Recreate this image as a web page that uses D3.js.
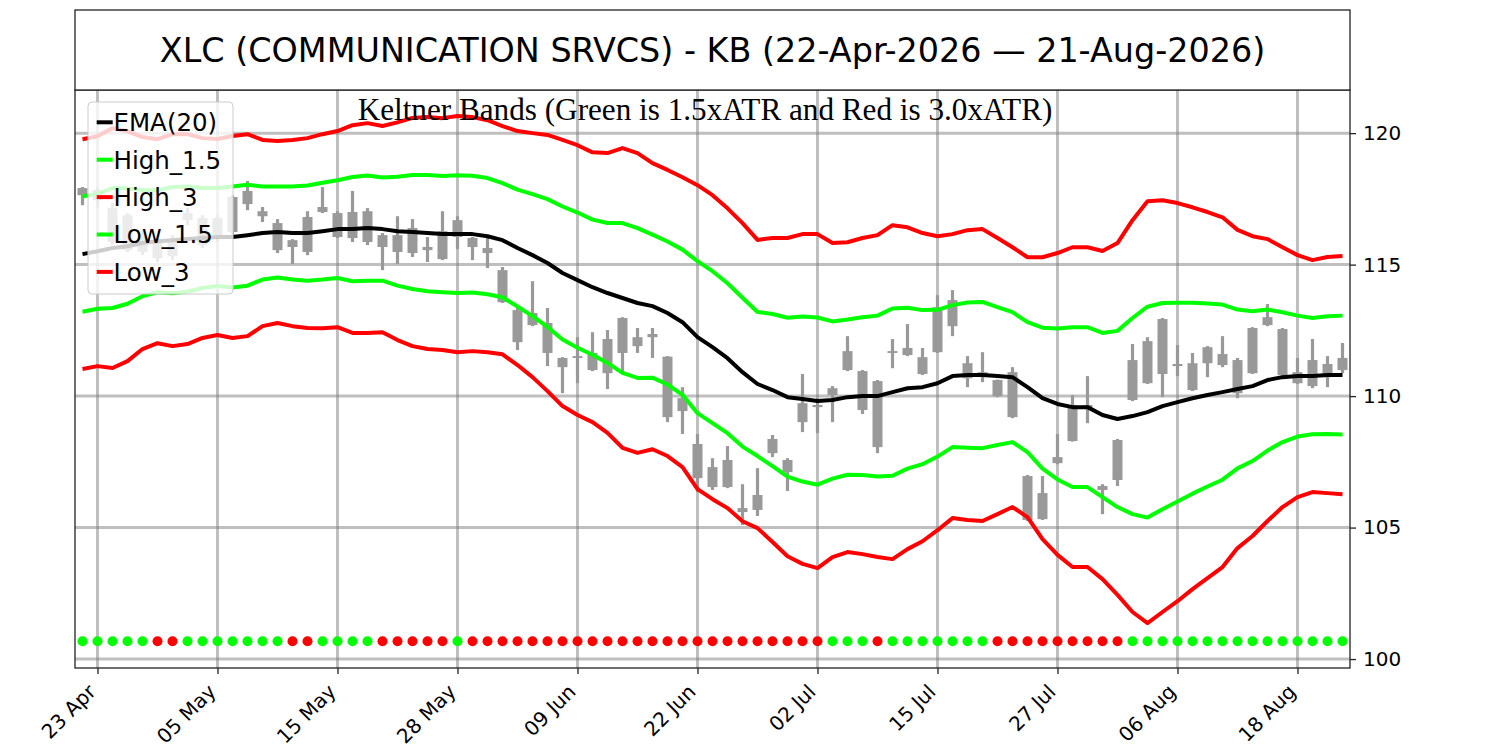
<!DOCTYPE html>
<html>
<head>
<meta charset="utf-8">
<script src="https://cdn.jsdelivr.net/npm/d3@7"></script>
<style>
  body { margin: 0; background: #fff; }
  svg { display: block; }
</style>
</head>
<body>
<div id="chart"></div>
<script>
// trading days shown on the chart
const dates = [
  "2026-04-22","2026-04-23","2026-04-24","2026-04-27","2026-04-28","2026-04-29","2026-04-30",
  "2026-05-01","2026-05-04","2026-05-05","2026-05-06","2026-05-07","2026-05-08","2026-05-11",
  "2026-05-12","2026-05-13","2026-05-14","2026-05-15","2026-05-18","2026-05-19","2026-05-20",
  "2026-05-21","2026-05-22","2026-05-26","2026-05-27","2026-05-28","2026-05-29",
  "2026-06-01","2026-06-02","2026-06-03","2026-06-04","2026-06-05","2026-06-08","2026-06-09",
  "2026-06-10","2026-06-11","2026-06-12","2026-06-15","2026-06-16","2026-06-17","2026-06-18",
  "2026-06-22","2026-06-23","2026-06-24","2026-06-25","2026-06-26","2026-06-29","2026-06-30",
  "2026-07-01","2026-07-02","2026-07-06","2026-07-07","2026-07-08","2026-07-09","2026-07-10",
  "2026-07-13","2026-07-14","2026-07-15","2026-07-16","2026-07-17","2026-07-20","2026-07-21",
  "2026-07-22","2026-07-23","2026-07-24","2026-07-27","2026-07-28","2026-07-29","2026-07-30",
  "2026-07-31","2026-08-03","2026-08-04","2026-08-05","2026-08-06","2026-08-07","2026-08-10",
  "2026-08-11","2026-08-12","2026-08-13","2026-08-14","2026-08-17","2026-08-18","2026-08-19",
  "2026-08-20","2026-08-21"
];

// candles (all drawn grey in the source)
const highs = [
  117.95,117.95,117.34,116.96,116.31,116.01,116.12,117.15,116.88,116.88,
  117.64,118.18,117.19,116.73,115.97,117.03,117.95,117.03,117.80,117.15,
  116.20,116.84,116.73,116.05,117.03,116.84,116.05,116.05,114.91,113.38,
  114.37,113.35,111.48,112.24,112.43,112.51,113.00,112.59,112.59,111.52,
  110.34,108.56,107.64,108.10,106.65,107.26,108.52,107.64,110.84,109.92,
  110.38,112.28,110.99,110.61,112.17,112.74,111.83,113.84,114.03,111.52,
  111.67,110.63,111.10,107.00,106.96,108.56,110.04,110.76,106.65,108.37,
  111.98,112.24,112.97,111.94,111.64,111.90,112.28,111.45,112.62,113.50,
  112.59,111.45,112.17,111.52,112.02
];
const opens = [
  117.91,117.83,117.15,116.88,116.12,115.86,115.93,116.96,116.77,116.77,
  117.57,117.80,117.03,116.58,115.93,116.81,117.19,116.96,117.00,117.03,
  116.12,116.12,116.39,115.67,116.27,116.69,116.01,115.63,114.79,113.27,
  113.16,112.78,111.45,111.52,111.64,112.17,112.97,112.24,112.36,111.50,
  109.92,108.18,107.30,107.57,105.74,106.24,108.37,107.57,109.73,109.66,
  110.30,111.71,110.95,110.57,111.71,111.83,111.48,113.38,113.65,111.25,
  110.91,110.61,110.91,106.96,106.31,107.68,109.66,109.66,106.58,108.33,
  111.37,112.09,112.93,111.22,111.25,111.86,111.60,111.37,112.59,113.00,
  112.55,110.91,111.37,111.22,111.45
];
const closes = [
  117.64,117.45,115.86,115.55,115.48,115.25,115.32,116.69,115.74,116.12,
  116.24,117.30,116.84,115.55,115.67,115.48,117.00,116.05,116.01,115.86,
  115.67,115.48,115.44,115.55,115.21,116.05,115.67,115.44,113.57,112.05,
  112.70,111.64,111.10,111.45,110.99,110.87,111.64,111.90,112.24,109.20,
  109.43,106.88,106.54,106.54,105.59,105.67,107.83,107.11,109.01,109.58,
  110.04,110.99,109.47,108.06,111.64,111.56,110.84,111.67,112.66,110.68,
  110.84,110.00,109.20,105.29,105.32,107.45,108.29,109.58,106.43,106.81,
  109.85,110.49,110.84,111.14,110.23,111.25,111.18,110.11,110.87,112.70,
  110.80,110.49,110.38,110.72,110.99
];
const lows = [
  117.26,117.15,115.74,115.48,115.36,115.10,115.17,116.50,115.63,115.86,
  116.08,117.07,116.62,115.44,115.02,115.36,116.96,116.01,115.86,115.74,
  114.79,115.02,115.29,115.10,115.17,115.59,115.17,114.87,113.54,111.75,
  112.66,111.14,110.11,110.49,110.95,110.27,110.87,111.64,111.45,109.01,
  108.56,106.35,106.43,106.50,105.10,105.44,107.68,106.39,108.63,108.59,
  109.01,110.95,109.32,107.83,111.06,111.52,110.80,111.64,112.28,110.34,
  110.53,109.96,109.16,105.25,105.29,107.41,108.27,108.97,105.51,106.58,
  109.81,110.46,109.96,110.76,110.19,110.72,111.10,109.92,110.84,112.66,
  110.76,110.46,110.30,110.34,110.87
];

// Keltner lines
const ema20 = [
  115.40,115.51,115.63,115.70,115.82,115.89,115.93,115.97,116.01,116.05,
  116.05,116.12,116.20,116.24,116.20,116.20,116.27,116.35,116.35,116.39,
  116.35,116.27,116.24,116.20,116.16,116.16,116.16,116.08,115.93,115.63,
  115.36,115.06,114.68,114.41,114.14,113.92,113.73,113.54,113.42,113.16,
  112.81,112.24,111.86,111.44,110.91,110.46,110.23,109.96,109.89,109.81,
  109.85,109.96,110.00,110.00,110.15,110.30,110.34,110.49,110.76,110.80,
  110.80,110.76,110.72,110.34,109.92,109.70,109.58,109.58,109.28,109.13,
  109.24,109.39,109.62,109.77,109.92,110.04,110.15,110.27,110.38,110.61,
  110.72,110.76,110.76,110.80,110.80
];
const high15 = [
  117.59,117.70,117.91,117.89,117.84,117.83,117.95,117.97,117.91,117.91,
  117.97,118.04,117.97,117.97,117.97,118.01,118.11,118.21,118.33,118.39,
  118.31,118.34,118.41,118.41,118.37,118.40,118.38,118.29,118.10,117.85,
  117.68,117.49,117.21,116.98,116.71,116.58,116.58,116.39,116.14,115.88,
  115.57,115.13,114.75,114.29,113.74,113.20,113.12,112.98,113.03,112.99,
  112.84,112.91,113.00,113.06,113.33,113.36,113.27,113.28,113.46,113.56,
  113.58,113.38,113.19,112.81,112.60,112.57,112.62,112.62,112.40,112.48,
  112.97,113.40,113.54,113.55,113.55,113.52,113.48,113.29,113.23,113.29,
  113.19,113.06,112.97,113.04,113.06
];
const high3 = [
  119.77,119.88,120.19,120.07,119.85,119.77,119.96,119.96,119.81,119.78,
  119.89,119.96,119.74,119.70,119.74,119.81,119.96,120.08,120.30,120.38,
  120.27,120.41,120.58,120.61,120.57,120.65,120.61,120.49,120.27,120.08,
  120.00,119.93,119.74,119.54,119.27,119.24,119.43,119.24,118.86,118.60,
  118.32,118.02,117.64,117.14,116.58,115.94,116.01,116.01,116.16,116.16,
  115.82,115.85,116.01,116.12,116.50,116.42,116.20,116.08,116.16,116.31,
  116.35,116.01,115.66,115.28,115.28,115.44,115.66,115.66,115.52,115.82,
  116.69,117.41,117.45,117.34,117.18,117.00,116.80,116.32,116.08,115.97,
  115.66,115.36,115.17,115.29,115.33
];
const low15 = [
  113.21,113.32,113.35,113.51,113.80,113.95,113.91,113.97,114.11,114.19,
  114.13,114.20,114.43,114.51,114.43,114.39,114.43,114.49,114.37,114.39,
  114.39,114.20,114.07,113.99,113.95,113.92,113.94,113.87,113.76,113.41,
  113.04,112.63,112.15,111.84,111.57,111.26,110.88,110.69,110.70,110.44,
  110.05,109.35,108.97,108.59,108.08,107.72,107.34,106.94,106.75,106.63,
  106.86,107.01,107.00,106.94,106.97,107.24,107.41,107.70,108.06,108.04,
  108.02,108.14,108.25,107.87,107.24,106.83,106.54,106.54,106.16,105.78,
  105.51,105.38,105.70,105.99,106.29,106.56,106.82,107.25,107.53,107.93,
  108.25,108.46,108.55,108.56,108.54
];
const low3 = [
  111.03,111.14,111.07,111.33,111.79,112.01,111.90,111.98,112.21,112.32,
  112.21,112.28,112.66,112.78,112.66,112.59,112.58,112.62,112.40,112.40,
  112.43,112.13,111.90,111.79,111.75,111.67,111.71,111.67,111.59,111.18,
  110.72,110.19,109.62,109.28,109.01,108.60,108.03,107.84,107.98,107.72,
  107.30,106.46,106.08,105.74,105.24,104.98,104.45,103.91,103.62,103.46,
  103.88,104.07,103.99,103.88,103.80,104.18,104.48,104.90,105.36,105.29,
  105.25,105.51,105.78,105.40,104.56,103.96,103.50,103.50,103.04,102.44,
  101.79,101.37,101.79,102.20,102.66,103.08,103.50,104.22,104.68,105.25,
  105.78,106.16,106.35,106.31,106.27
];

// 1 = green dot, 0 = red dot
const signals = [
  1,1,1,1,1,0,0,1,1,1,1,1,1,1,0,0,1,1,1,1,
  0,0,0,0,0,1,0,0,0,0,0,0,0,0,0,0,0,0,0,0,
  0,0,0,0,0,0,0,0,0,0,1,1,1,0,1,1,1,1,1,1,
  1,0,0,0,0,0,0,0,0,0,1,1,1,1,1,1,1,1,1,1,
  1,1,1,1,1
];
const signalLevel = 100.68;

const tickIdx = [1, 9, 17, 25, 33, 41, 49, 57, 65, 73, 81];
const yTicks = [100, 105, 110, 115, 120];

const seriesNames = ["EMA(20)", "High_1.5", "High_3", "Low_1.5", "Low_3"];
const seriesColors = ["#000000", "#00ff00", "#ff0000", "#00ff00", "#ff0000"];
const seriesValues = [ema20, high15, high3, low15, low3];

const titleText = "XLC (COMMUNICATION SRVCS) - KB (22-Apr-2026 \u2014 21-Aug-2026)";
const subTitle = "Keltner Bands (Green is 1.5xATR and Red is 3.0xATR)";

// ---------------------------------------------------------------
const width = 1500, height = 750;
const plot = {left: 75, right: 1350, top: 90, bottom: 668};
const sans = "DejaVu Sans";
const tickFont = 20;

const svg = d3.select("#chart").append("svg")
    .attr("width", width)
    .attr("height", height)
    .attr("font-family", sans);

svg.append("rect").attr("width", width).attr("height", height).attr("fill", "#fff");

const x = d3.scaleLinear()
    .domain([-0.5, dates.length - 0.5])
    .range([plot.left, plot.right]);

const y = d3.scaleLinear()
    .domain([99.66, 121.64])
    .range([plot.bottom, plot.top]);

const parse = d3.timeParse("%Y-%m-%d");
const fmt = d3.timeFormat("%d %b");

// grid
const grid = svg.append("g").attr("class", "grid")
    .attr("stroke", "#808080").attr("stroke-opacity", 0.5).attr("stroke-width", 3);
grid.selectAll(".vg").data(tickIdx).enter().append("line")
    .attr("x1", d => x(d)).attr("x2", d => x(d))
    .attr("y1", plot.top).attr("y2", plot.bottom);
grid.selectAll(".hg").data(yTicks).enter().append("line")
    .attr("x1", plot.left).attr("x2", plot.right)
    .attr("y1", d => y(d)).attr("y2", d => y(d));

// candles
const candles = svg.append("g").attr("fill", "#999999").attr("stroke", "none");
const idx = d3.range(dates.length);
candles.selectAll(".wick").data(idx).enter().append("rect")
    .attr("x", i => x(i) - 1.6)
    .attr("width", 3.2)
    .attr("y", i => y(highs[i]))
    .attr("height", i => Math.max(0.5, y(lows[i]) - y(highs[i])));
candles.selectAll(".body").data(idx).enter().append("rect")
    .attr("x", i => x(i) - 5)
    .attr("width", 10)
    .attr("y", i => y(Math.max(opens[i], closes[i])))
    .attr("height", i => Math.max(1.5, Math.abs(y(opens[i]) - y(closes[i]))));

// Keltner lines
const line = d3.line().x((d, i) => x(i)).y(d => y(d));
seriesValues.forEach((vals, k) => {
  svg.append("path")
      .datum(vals)
      .attr("fill", "none")
      .attr("stroke", seriesColors[k])
      .attr("stroke-width", 4)
      .attr("stroke-linejoin", "round")
      .attr("d", line);
});

// signal dots
svg.append("g").selectAll("circle").data(idx).enter().append("circle")
    .attr("cx", i => x(i))
    .attr("cy", y(signalLevel))
    .attr("r", 5)
    .attr("fill", i => signals[i] ? "#00ff00" : "#ff0000");

// axes
const xAxis = d3.axisBottom(x)
    .tickValues(tickIdx)
    .tickFormat(i => fmt(parse(dates[i])))
    .tickSize(6);
const gx = svg.append("g")
    .attr("transform", `translate(0,${plot.bottom})`)
    .call(xAxis)
    .attr("font-size", tickFont)
    .attr("font-family", sans);
gx.select(".domain").remove();
gx.selectAll(".tick line").attr("stroke", "#222").attr("stroke-width", 1.3);
gx.selectAll(".tick text")
    .attr("y", null).attr("dy", null)
    .attr("text-anchor", "end")
    .attr("transform", "translate(-1,25) rotate(-45)")
    .attr("font-size", tickFont)
    .attr("fill", "#000");

const yAxis = d3.axisRight(y).tickValues(yTicks).tickSize(6).tickPadding(7);
const gy = svg.append("g")
    .attr("transform", `translate(${plot.right},0)`)
    .call(yAxis)
    .attr("font-size", tickFont)
    .attr("font-family", sans);
gy.select(".domain").remove();
gy.selectAll(".tick line").attr("stroke", "#222").attr("stroke-width", 1.3);
gy.selectAll(".tick text").attr("font-size", tickFont).attr("fill", "#000");

// frame
svg.append("rect")
    .attr("x", plot.left).attr("y", plot.top)
    .attr("width", plot.right - plot.left).attr("height", plot.bottom - plot.top)
    .attr("fill", "none").attr("stroke", "#222").attr("stroke-width", 1.3);

// legend
const legend = svg.append("g").attr("transform", "translate(88,102)");
legend.append("rect")
    .attr("width", 145).attr("height", 192)
    .attr("rx", 4)
    .attr("fill", "#fff").attr("fill-opacity", 0.8)
    .attr("stroke", "#cccccc").attr("stroke-width", 1);
seriesNames.forEach((name, k) => {
  const cy = 20.3 + k * 37.4;
  legend.append("line")
      .attr("x1", 8.7).attr("x2", 24.7)
      .attr("y1", cy).attr("y2", cy)
      .attr("stroke", seriesColors[k]).attr("stroke-width", 4);
  legend.append("text")
      .attr("x", 25.5).attr("y", cy + 8.8)
      .attr("font-size", 24.5)
      .text(name);
});

// subtitle inside plot
svg.append("text")
    .attr("x", 705).attr("y", 120)
    .attr("text-anchor", "middle")
    .attr("font-family", "'Liberation Serif', 'Times New Roman', serif")
    .attr("font-size", 31.2)
    .text(subTitle);

// title box
svg.append("rect")
    .attr("x", plot.left).attr("y", 10)
    .attr("width", plot.right - plot.left).attr("height", plot.top - 10)
    .attr("fill", "#fff").attr("stroke", "#222").attr("stroke-width", 1.3);
svg.append("text")
    .attr("x", (plot.left + plot.right) / 2).attr("y", 62)
    .attr("text-anchor", "middle")
    .attr("font-size", 33.4)
    .text(titleText);
</script>
</body>
</html>
